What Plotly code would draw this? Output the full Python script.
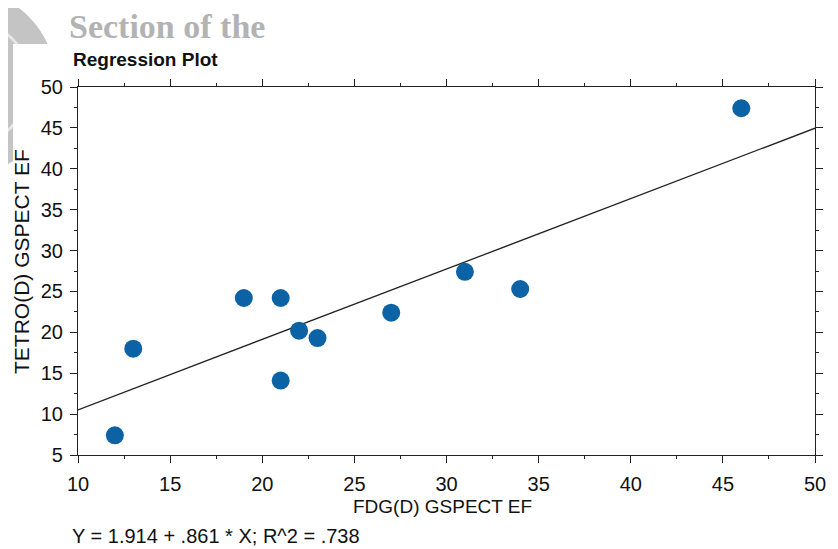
import plotly.graph_objects as go
import numpy as np

# Data
fdg_ef = [12, 13, 19, 21, 21, 22, 23, 27, 31, 34, 46]
tetro_ef = [7.4, 18, 24.2, 24.2, 14.1, 20.2, 19.3, 22.4, 27.4, 25.3, 47.4]
intercept = 1.914
slope = 0.861
x_range = [10, 50]
y_range = [5, 50]
tick_vals_x = [10, 15, 20, 25, 30, 35, 40, 45, 50]
tick_vals_y = [5, 10, 15, 20, 25, 30, 35, 40, 45, 50]

line_x = np.array(x_range, dtype=float)
line_y = intercept + slope * line_x

# page has an 8px body margin, so the figure is sized to fit the window
OFF = 8
W, H = 838 - OFF, 549 - OFF
L, R, T, B = 78 - OFF, 23, 87 - OFF, 94
pw, ph = W - L - R, H - T - B
FONT = "Liberation Sans, Arial"


def px(xp):  # page pixel -> paper
    return (xp - OFF - L) / pw


def py(yp):
    return (H - B - (yp - OFF)) / ph


fig = go.Figure()
fig.add_trace(go.Scatter(x=line_x, y=line_y, mode="lines",
                         line=dict(color="#222222", width=1.3),
                         hoverinfo="skip", showlegend=False))
fig.add_trace(go.Scatter(x=fdg_ef, y=tetro_ef, mode="markers",
                         marker=dict(color="#0b63a5", size=18),
                         showlegend=False))

axis_common = dict(showline=True, linecolor="#222222", linewidth=1.2, mirror="ticks",
                   ticks="outside", ticklen=7, tickcolor="#222222", showgrid=False,
                   zeroline=False, automargin=False,
                   tickfont=dict(family=FONT, size=20, color="#111111"),
                   minor=dict(ticks="outside", ticklen=3, dtick=2.5, tickcolor="#222222"))

fig.update_xaxes(range=x_range, tickvals=tick_vals_x, ticklabelstandoff=4, **axis_common)
fig.update_yaxes(range=y_range, tickvals=tick_vals_y, ticklabelstandoff=3, **axis_common)

shapes = [
    dict(type="circle", xref="paper", yref="paper", x0=px(-130), x1=px(55), y0=py(175), y1=py(-10),
         fillcolor="#c4c4c4", line=dict(color="#c4c4c4"), layer="below"),
    dict(type="circle", xref="paper", yref="paper", x0=px(-95), x1=px(30), y0=py(145), y1=py(20),
         fillcolor="rgba(0,0,0,0)", line=dict(color="#e6e6e6", width=3), layer="below"),
    dict(type="rect", xref="paper", yref="paper", x0=px(13), x1=px(850), y0=py(560), y1=py(44),
         fillcolor="white", line=dict(width=0), layer="below"),
]

annotations = [
    dict(text="<b>Section of the</b>", xref="paper", yref="paper", x=px(67), y=py(27),
         xanchor="left", yanchor="middle", showarrow=False,
         font=dict(family="Liberation Serif, Times New Roman", size=34, color="#b3b3b3")),
    dict(text="<b>Regression Plot</b>", xref="paper", yref="paper", x=px(71), y=py(59),
         xanchor="left", yanchor="middle", showarrow=False,
         font=dict(family=FONT, size=19, color="#111111")),
    dict(text="FDG(D) GSPECT EF", xref="paper", yref="paper", x=px(442), y=py(506),
         xanchor="center", yanchor="middle", showarrow=False,
         font=dict(family=FONT, size=19, color="#111111")),
    dict(text="TETRO(D) GSPECT EF", xref="paper", yref="paper", x=px(22), y=py(262),
         xanchor="center", yanchor="middle", showarrow=False, textangle=-90,
         font=dict(family=FONT, size=21, color="#111111")),
    dict(text="Y = 1.914 + .861 * X; R^2 = .738", xref="paper", yref="paper", x=px(70), y=py(536),
         xanchor="left", yanchor="middle", showarrow=False,
         font=dict(family=FONT, size=20, color="#111111")),
]

fig.update_layout(width=W, height=H, margin=dict(l=L, r=R, t=T, b=B),
                  paper_bgcolor="white", plot_bgcolor="white",
                  shapes=shapes, annotations=annotations)

fig.write_html("out.html")
